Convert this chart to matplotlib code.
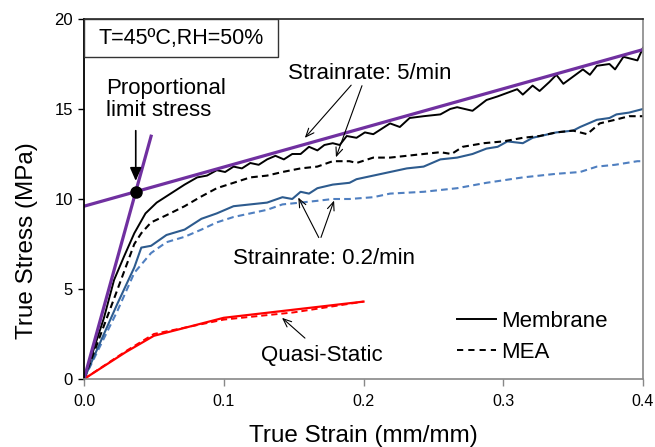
import matplotlib
matplotlib.use("Agg")
import matplotlib.pyplot as plt
from matplotlib.lines import Line2D
from matplotlib.patches import Rectangle

plt.rcParams['font.family'] = ['Liberation Sans', 'DejaVu Sans']

# ---- data ----
strain_mem5 = [0, 0.0143, 0.0215, 0.0286, 0.036, 0.044, 0.052, 0.062, 0.072, 0.081, 0.088, 0.095,
               0.101, 0.107, 0.113, 0.119, 0.125, 0.131, 0.137, 0.143, 0.149, 0.155, 0.161, 0.167,
               0.172, 0.178, 0.183, 0.188, 0.195, 0.201, 0.207, 0.213, 0.219, 0.226, 0.233, 0.243,
               0.255, 0.262, 0.267, 0.278, 0.288, 0.296, 0.303, 0.31, 0.314, 0.321, 0.326, 0.333,
               0.338, 0.343, 0.35, 0.357, 0.362, 0.367, 0.376, 0.38, 0.386, 0.396, 0.4]
stress_mem5 = [0, 3.4, 5.5, 6.8, 8.1, 9.2, 9.8, 10.3, 10.8, 11.2, 11.3, 11.6,
               11.5, 11.8, 11.7, 12.0, 11.9, 12.2, 12.4, 12.2, 12.5, 12.5, 12.9, 12.7,
               13.0, 13.1, 13.0, 13.5, 13.4, 13.7, 13.6, 13.9, 14.2, 14.0, 14.5, 14.6,
               14.7, 15.0, 15.1, 14.9, 15.5, 15.7, 15.9, 16.1, 15.8, 16.3, 16.0, 16.5,
               16.9, 16.4, 16.8, 17.2, 16.9, 17.4, 17.5, 17.2, 17.9, 17.7, 18.4]

strain_mea5 = [0, 0.0236, 0.036, 0.041, 0.048, 0.059, 0.072, 0.083, 0.095, 0.107, 0.119, 0.131,
               0.142, 0.155, 0.167, 0.178, 0.19, 0.195, 0.207, 0.219, 0.231, 0.243, 0.255, 0.263,
               0.271, 0.286, 0.3, 0.314, 0.326, 0.338, 0.35, 0.36, 0.369, 0.38, 0.39, 0.4]
stress_mea5 = [0, 4.9, 7.5, 8.1, 8.7, 9.1, 9.6, 10.1, 10.6, 10.9, 11.2, 11.3,
               11.5, 11.7, 11.8, 12.1, 12.1, 12.0, 12.3, 12.3, 12.4, 12.5, 12.6, 12.5,
               12.9, 13.1, 13.2, 13.4, 13.5, 13.7, 13.8, 13.6, 14.2, 14.4, 14.6, 14.6]

strain_mem02 = [0, 0.024, 0.036, 0.041, 0.048, 0.059, 0.072, 0.084, 0.095, 0.107, 0.119, 0.131,
                0.142, 0.149, 0.155, 0.161, 0.167, 0.178, 0.19, 0.195, 0.207, 0.219, 0.231, 0.243,
                0.255, 0.267, 0.278, 0.288, 0.296, 0.303, 0.314, 0.321, 0.338, 0.35, 0.355, 0.367,
                0.376, 0.381, 0.39, 0.4]
stress_mem02 = [0, 4.2, 6.2, 7.3, 7.4, 8.0, 8.3, 8.9, 9.2, 9.6, 9.7, 9.8,
                10.1, 10.0, 10.4, 10.3, 10.6, 10.8, 10.9, 11.1, 11.3, 11.5, 11.7, 11.8,
                12.2, 12.3, 12.5, 12.8, 12.9, 13.2, 13.1, 13.4, 13.7, 13.8, 14.0, 14.4,
                14.5, 14.7, 14.8, 15.0]

strain_mea02 = [0, 0.024, 0.036, 0.048, 0.059, 0.072, 0.084, 0.095, 0.107, 0.131, 0.142, 0.155,
                0.167, 0.178, 0.19, 0.207, 0.219, 0.243, 0.267, 0.288, 0.314, 0.338, 0.355,
                0.367, 0.38, 0.396, 0.4]
stress_mea02 = [0, 3.8, 5.9, 7.0, 7.6, 7.9, 8.3, 8.7, 9.0, 9.4, 9.7, 9.8,
                9.9, 10.0, 10.0, 10.1, 10.3, 10.4, 10.6, 10.9, 11.2, 11.4, 11.5,
                11.8, 11.9, 12.1, 12.1]

strain_memqs = [0, 0.03, 0.05, 0.1, 0.2]
stress_memqs = [0, 1.5, 2.4, 3.4, 4.3]
strain_meaqs = [0, 0.03, 0.05, 0.1, 0.15, 0.2]
stress_meaqs = [0, 1.55, 2.5, 3.3, 3.7, 4.3]

# proportional-limit construction lines
fit_intercept, fit_slope = 9.6, 21.75       # hardening line
fit_x = [0.0, 0.4]
lin_slope = 281.0                           # initial elastic line
lin_x = [0.0, 0.048]

xticks = [0.0, 0.1, 0.2, 0.3, 0.4]
yticks = [0, 5, 10, 15, 20]

# ---- plot ----
fig = plt.figure(figsize=(6.55, 4.47), dpi=100)
ax = fig.add_axes([84/655, 68/447, 559/655, 360/447])

blue_dark = '#2D5B8E'
blue_light = '#4F7FC0'
purple = '#7030A0'
dash = (0, (3.2, 2.0))

ax.plot(strain_mea02, stress_mea02, color=blue_light, lw=1.5, ls=dash)
ax.plot(strain_mem02, stress_mem02, color=blue_dark, lw=1.5)
ax.plot(strain_mea5, stress_mea5, color='black', lw=1.5, ls=dash)
ax.plot(strain_mem5, stress_mem5, color='black', lw=1.4)
ax.plot(strain_meaqs, stress_meaqs, color='red', lw=1.4, ls=dash)
ax.plot(strain_memqs, stress_memqs, color='red', lw=1.6)

ax.plot(fit_x, [fit_intercept + fit_slope * x for x in fit_x], color=purple, lw=2.3)
ax.plot(lin_x, [lin_slope * x for x in lin_x], color=purple, lw=2.3)
xi = fit_intercept / (lin_slope - fit_slope)
ax.plot([xi], [lin_slope * xi], 'o', color='black', ms=8, zorder=5)

ax.set_xlim(0, 0.4)
ax.set_ylim(0, 20)
ax.set_xticks(xticks)
ax.set_xticklabels([f'{v:.1f}' for v in xticks])
ax.set_yticks(yticks)
ax.tick_params(axis='y', direction='out', length=4, width=1, color='black',
               labelsize=12, pad=4)
ax.tick_params(axis='x', direction='out', length=5, width=1, color='#888888',
               labelsize=11.5, pad=6)
for s in ax.spines.values():
    s.set_linewidth(1.2)
ax.spines['left'].set_color('black')
ax.spines['left'].set_linewidth(1.3)
ax.spines['top'].set_color('#222222')
ax.spines['bottom'].set_color('#888888')
ax.spines['right'].set_color('#888888')

ax.set_xlabel('True Strain (mm/mm)', fontsize=17.5, labelpad=11)
ax.set_ylabel('True Stress (MPa)', fontsize=17.5)
ax.yaxis.set_label_coords(-0.083, 0.385)

# condition box
ax.add_patch(Rectangle((0, 0.894), 0.347, 0.106, transform=ax.transAxes,
                       facecolor='white', edgecolor='#333333', lw=1.0, zorder=6))
ax.text(0.1735, 0.947, 'T=45ºC,RH=50%', transform=ax.transAxes, ha='center',
        va='center', fontsize=15.5, zorder=7)

fs = 16
ax.text(0.0157, 15.55, 'Proportional\nlimit stress', fontsize=fs, ha='left',
        va='center', linespacing=1.05)
ax.annotate('', xy=(xi, 10.85), xytext=(xi, 13.95),
            arrowprops=dict(arrowstyle='-|>,head_length=0.8,head_width=0.35',
                            color='black', lw=1.2))

ax.text(0.146, 17.0, 'Strainrate: 5/min', fontsize=fs, ha='left', va='center')
ax.annotate('', xy=(0.1567, 13.28), xytext=(0.1925, 16.44),
            arrowprops=dict(arrowstyle='->,head_length=0.6,head_width=0.25',
                            color='black', lw=0.8))
ax.annotate('', xy=(0.1796, 12.17), xytext=(0.1996, 16.44),
            arrowprops=dict(arrowstyle='->,head_length=0.6,head_width=0.25',
                            color='black', lw=0.8))

ax.text(0.1066, 6.72, 'Strainrate: 0.2/min', fontsize=fs, ha='left', va='center')
ax.annotate('', xy=(0.1524, 10.22), xytext=(0.1689, 7.72),
            arrowprops=dict(arrowstyle='->,head_length=0.6,head_width=0.25',
                            color='black', lw=0.8))
ax.annotate('', xy=(0.1796, 10.06), xytext=(0.1689, 7.72),
            arrowprops=dict(arrowstyle='->,head_length=0.6,head_width=0.25',
                            color='black', lw=0.8))

ax.text(0.127, 1.33, 'Quasi-Static', fontsize=fs, ha='left', va='center')
ax.annotate('', xy=(0.1402, 3.5), xytext=(0.1596, 2.17),
            arrowprops=dict(arrowstyle='->,head_length=0.6,head_width=0.25',
                            color='black', lw=0.8))

handles = [Line2D([], [], color='black', lw=1.4),
           Line2D([], [], color='black', lw=1.4, ls=(0, (3.2, 2.6)))]
ax.legend(handles, ['Membrane', 'MEA'], loc='center left',
          bbox_to_anchor=(0.667, 0.117), frameon=False, fontsize=fs,
          handlelength=1.75, handletextpad=0.25, labelspacing=0.45,
          borderpad=0, borderaxespad=0)

fig.savefig('out.png', dpi=100)
